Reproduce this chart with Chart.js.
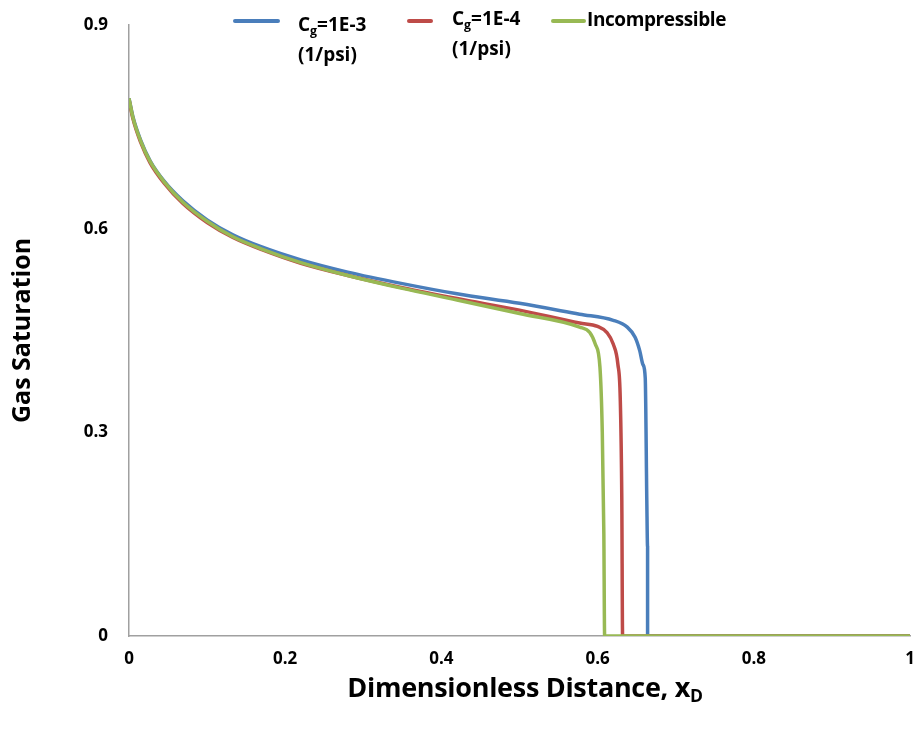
<!DOCTYPE html>
<html>
<head>
<meta charset="utf-8">
<script src="https://cdn.jsdelivr.net/npm/chart.js@4"></script>
<style>
  body { margin: 0; background: #fff; font-family: "Open Sans", Lato, sans-serif; }
  #wrap { position: relative; width: 919px; height: 735px; }
  .lg { position: absolute; font-weight: bold; font-size: 19px; color: #000; line-height: 30px; }
  .sw { position: absolute; height: 4px; border-radius: 2px; }
  #xtitle { position: absolute; left: 0; width: 1050px; top: 668px; text-align: center; font-weight: bold; font-size: 27px; letter-spacing: -0.3px; }
  sub { font-size: 65%; vertical-align: -0.3em; line-height: 0; }
</style>
</head>
<body>
<div id="wrap">
  <canvas id="myChart" width="919" height="735"></canvas>
  <div class="sw" style="left:233px;top:19px;width:47px;background:#4a7ebb"></div>
  <div class="lg" style="left:298px;top:9px">C<sub>g</sub>=1E-3<br>(1/psi)</div>
  <div class="sw" style="left:407px;top:19px;width:26px;background:#be4b48"></div>
  <div class="lg" style="left:452px;top:3px">C<sub>g</sub>=1E-4<br>(1/psi)</div>
  <div class="sw" style="left:551px;top:19px;width:35px;background:#98b954"></div>
  <div class="lg" style="left:587px;top:4px;letter-spacing:-0.4px">Incompressible</div>
  <div id="xtitle">Dimensionless Distance, x<sub>D</sub></div>
</div>
<script>
// Cg = 1E-3 (1/psi)
const xBlue = [0, 0.005, 0.015, 0.027, 0.045, 0.069, 0.1, 0.133, 0.17, 0.22, 0.28, 0.35, 0.42, 0.5, 0.577, 0.62, 0.638, 0.648, 0.654, 0.658, 0.661, 0.663, 0.664, 0.664, 1];
const yBlue = [0.792, 0.765, 0.73, 0.70, 0.67, 0.641, 0.613, 0.591, 0.573, 0.554, 0.536, 0.519, 0.504, 0.49, 0.474, 0.465, 0.455, 0.44, 0.42, 0.40, 0.38, 0.2, 0.13, 0, 0];

// Cg = 1E-4 (1/psi)
const xRed = [0, 0.005, 0.015, 0.027, 0.045, 0.069, 0.1, 0.133, 0.17, 0.22, 0.28, 0.35, 0.42, 0.5, 0.577, 0.6, 0.612, 0.62, 0.626, 0.629, 0.631, 0.632, 1];
const yRed = [0.79, 0.762, 0.727, 0.697, 0.667, 0.637, 0.609, 0.587, 0.569, 0.549, 0.531, 0.513, 0.497, 0.48, 0.461, 0.456, 0.447, 0.43, 0.40, 0.35, 0.2, 0, 0];

// Incompressible
const xGreen = [0, 0.005, 0.015, 0.027, 0.045, 0.069, 0.1, 0.133, 0.17, 0.22, 0.28, 0.35, 0.42, 0.5, 0.577, 0.59, 0.597, 0.603, 0.606, 0.608, 0.609, 1];
const yGreen = [0.792, 0.764, 0.729, 0.699, 0.669, 0.639, 0.611, 0.588, 0.57, 0.55, 0.531, 0.512, 0.495, 0.475, 0.455, 0.447, 0.43, 0.396, 0.3, 0.15, 0, 0];

const xTicks = [0, 0.2, 0.4, 0.6, 0.8, 1];
const yTicks = [0, 0.3, 0.6, 0.9];

function pts(xs, ys) {
    return xs.map((x, i) => ({ x: x, y: ys[i] }));
}

const tickFont = { family: 'Open Sans', size: 17, weight: 'bold' };
const ctx = document.getElementById('myChart');

new Chart(ctx, {
    type: 'line',
    data: {
        datasets: [
            { label: 'Cg=1E-3', data: pts(xBlue, yBlue), borderColor: '#4a7ebb', order: 3 },
            { label: 'Cg=1E-4', data: pts(xRed, yRed), borderColor: '#be4b48', order: 2 },
            { label: 'Incompressible', data: pts(xGreen, yGreen), borderColor: '#98b954', order: 1 }
        ]
    },
    options: {
        responsive: false,
        animation: false,
        elements: {
            line: { borderWidth: 3.5, tension: 0.3, cubicInterpolationMode: 'monotone' },
            point: { radius: 0 }
        },
        layout: { padding: { left: 0, right: 9, top: 25, bottom: 0 } },
        plugins: {
            legend: { display: false },
            tooltip: { enabled: false }
        },
        scales: {
            x: {
                type: 'linear',
                min: 0,
                max: 1,
                afterBuildTicks: s => { s.ticks = xTicks.map(v => ({ value: v })); },
                afterFit: s => { s.height = 99; s.paddingLeft = 0; s.paddingRight = 0; },
                grid: { display: false, drawTicks: false },
                border: { color: '#a0a0a0', width: 1.5 },
                ticks: {
                    padding: 13,
                    color: '#000',
                    font: tickFont,
                    maxRotation: 0,
                    callback: v => String(v)
                }
            },
            y: {
                min: 0,
                max: 0.9,
                afterBuildTicks: s => { s.ticks = yTicks.map(v => ({ value: v })); },
                afterFit: s => { s.width = 129; s.paddingTop = 0; s.paddingBottom = 0; },
                grid: { display: false, drawTicks: false },
                border: { color: '#a0a0a0', width: 1.5 },
                ticks: {
                    padding: 21,
                    color: '#000',
                    font: tickFont,
                    callback: v => String(v)
                },
                title: {
                    display: true,
                    text: 'Gas Saturation',
                    color: '#000',
                    font: { family: 'Open Sans', size: 25, weight: 'bold' },
                    padding: { top: 8, bottom: 0 }
                }
            }
        }
    }
});
</script>
</body>
</html>
